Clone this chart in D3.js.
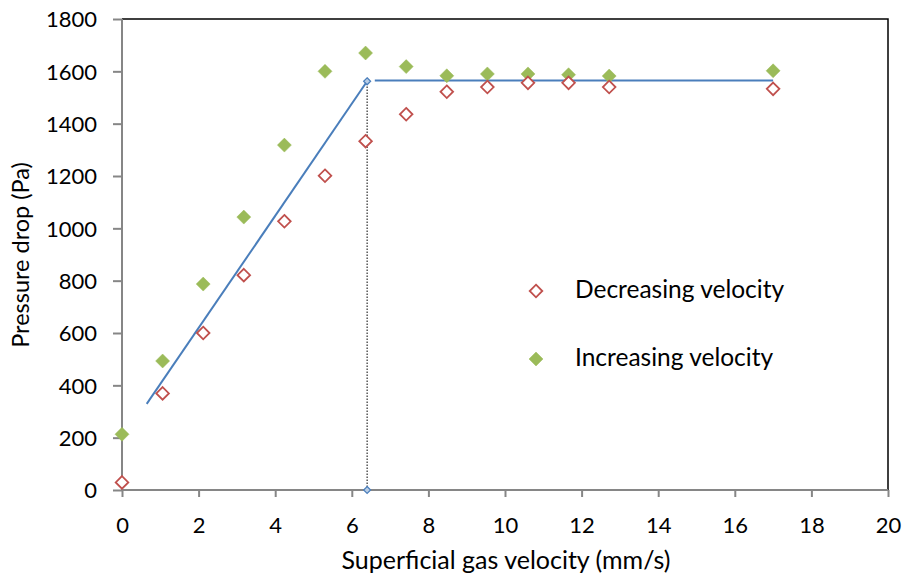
<!DOCTYPE html>
<html><head><meta charset="utf-8">
<script src="https://cdn.jsdelivr.net/npm/d3@7"></script>
<style>body{margin:0;background:#fff}svg{display:block}text{font-family:Lato,"Open Sans",sans-serif;fill:#000}</style>
</head><body><svg id="c" width="906" height="584"></svg>
<script>
const velocity = [0, 1.06, 2.12, 3.18, 4.24, 5.3, 6.36, 7.42, 8.48, 9.54, 10.6, 11.66, 12.72, 17.0];
const increasing = [213, 493, 787, 1043, 1318, 1600, 1670, 1618, 1583, 1590, 1590, 1587, 1582, 1602];
const decreasing = [29, 369, 600, 821, 1027, 1201, 1333, 1436, 1522, 1540, 1556, 1556, 1540, 1533];
const fitRiseX = [0.645, 6.4];
const fitRiseY = [329, 1562];
const fitFlatX = [6.6, 17.0];
const fitFlatY = [1565, 1565];
const critX = [6.4, 6.4];
const critY = [0, 1562];
const xTicks = [0,2,4,6,8,10,12,14,16,18,20];
const yTicks = [0,200,400,600,800,1000,1200,1400,1600,1800];

const svg = d3.select("#c");
const L=122,R=888,T=19,B=490;
const x = d3.scaleLinear().domain([0,20]).range([L,R]);
const y = d3.scaleLinear().domain([0,1800]).range([B,T]);

svg.append("path").attr("d",`M${L},${T}H${R}V${B}`).attr("fill","none").attr("stroke","#000").attr("stroke-width",1.5);

const ax = svg.append("g").attr("transform",`translate(0,${B})`)
  .call(d3.axisBottom(x).tickValues(xTicks).tickFormat(d3.format("d")).tickSize(7).tickPadding(12));
const ay = svg.append("g").attr("transform",`translate(${L},0)`)
  .call(d3.axisLeft(y).tickValues(yTicks).tickFormat(d3.format("d")).tickSize(9).tickPadding(16));
[ax,ay].forEach(a=>{
  a.selectAll("path,line").attr("stroke","#868686").attr("stroke-width",2);
  a.selectAll("text").attr("font-size",22).attr("font-family","Lato,'Open Sans',sans-serif").attr("fill","#000");
});
ax.selectAll("text").attr("y",43).attr("dy",0);
ay.selectAll("text").attr("dy","0.35em");
ay.select(".domain").attr("d",`M0,${B}V${T}`);
ax.select(".domain").attr("d",`M${L},0H${R}`);

svg.append("line").attr("x1",x(critX[0])).attr("x2",x(critX[1])).attr("y1",y(critY[0])).attr("y2",y(critY[1]))
  .attr("stroke","#000").attr("stroke-width",1).attr("stroke-dasharray","1.5,1.5");
const line = d3.line().x(d=>x(d[0])).y(d=>y(d[1]));
svg.append("path").attr("d",line(d3.zip(fitRiseX,fitRiseY))).attr("stroke","#4a7ebb").attr("stroke-width",2).attr("fill","none");
svg.append("path").attr("d",line(d3.zip(fitFlatX,fitFlatY))).attr("stroke","#4a7ebb").attr("stroke-width",2).attr("fill","none");
function diamond(g,cx,cy,h,fill,stroke,sw){
  g.append("path").attr("d",`M${cx},${cy-h}L${cx+h},${cy}L${cx},${cy+h}L${cx-h},${cy}Z`)
   .attr("fill",fill).attr("stroke",stroke).attr("stroke-width",sw);
}
const g = svg.append("g");
d3.zip(critX,critY).forEach(d=>diamond(g,x(d[0]),y(d[1]),3.5,"#b9cde5","#4a7ebb",1.2));

velocity.forEach((v,i)=>diamond(g,x(v),y(increasing[i]),7,"#9bbb59","#9bbb59",0.5));
velocity.forEach((v,i)=>diamond(g,x(v),y(decreasing[i]),6.3,"#fff","#c0504d",1.8));

diamond(g,536,291,6.3,"#fff","#c0504d",1.8);
svg.append("text").attr("x",575).attr("y",298).attr("font-size",24.5).text("Decreasing velocity");
diamond(g,536,359,7,"#9bbb59","#9bbb59",0.5);
svg.append("text").attr("x",575).attr("y",366).attr("font-size",24.5).text("Increasing velocity");

svg.append("text").attr("x",506).attr("y",569).attr("text-anchor","middle").attr("font-size",25).text("Superficial gas velocity (mm/s)");
svg.append("text").attr("transform","translate(29,255) rotate(-90)").attr("text-anchor","middle").attr("font-size",23.5).text("Pressure drop (Pa)");
</script></body></html>
